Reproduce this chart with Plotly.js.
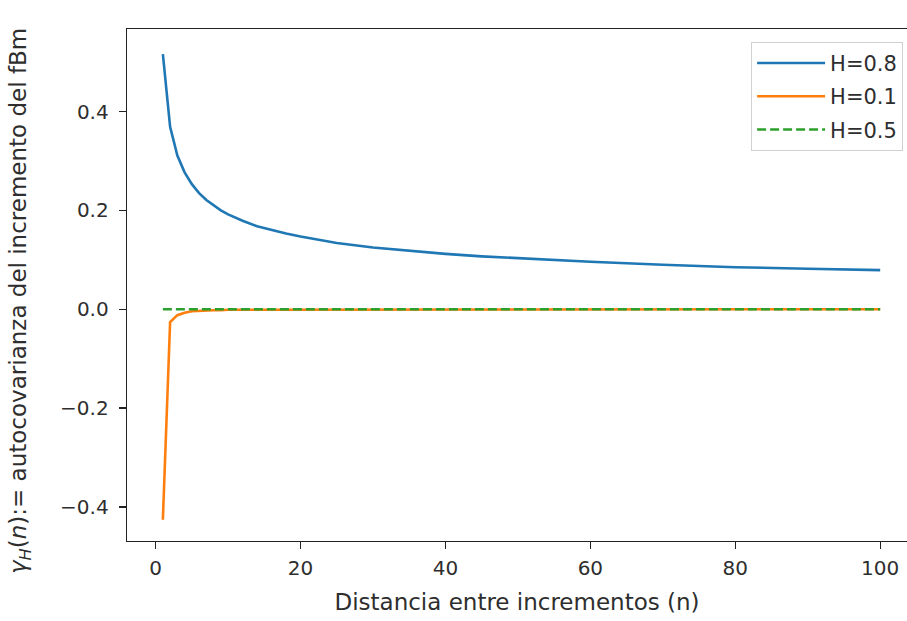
<!DOCTYPE html>
<html>
<head>
<meta charset="utf-8">
<script src="https://cdn.plot.ly/plotly-3.0.1.min.js"></script>
<style>html,body{margin:0;padding:0;background:#fff;}#chart{width:907px;height:621px;}</style>
</head>
<body>
<div id="chart"></div>
<script>
// Distance between increments (n)
const n = [1,2,3,4,5,6,7,8,9,10,12,14,16,18,20,25,30,35,40,45,50,60,70,80,90,100];
// Autocovariance values
const gammaH08 = [0.516,0.369,0.311,0.277,0.253,0.235,0.221,0.210,0.200,0.192,0.179,0.168,0.160,0.153,0.147,0.134,0.125,0.118,0.112,0.107,0.103,0.096,0.090,0.085,0.082,0.079];
const gammaH01 = [-0.426,-0.026,-0.012,-0.007,-0.004,-0.003,-0.002,-0.002,-0.002,-0.001,-0.001,-0.001,0,0,0,0,0,0,0,0,0,0,0,0,0,0];
const gammaH05 = [0,0,0,0,0,0,0,0,0,0,0,0,0,0,0,0,0,0,0,0,0,0,0,0,0,0];
const seriesNames = ["H=0.8","H=0.1","H=0.5"];
const xTicks = [0,20,40,60,80,100];
const yTicks = [-0.4,-0.2,0.0,0.2,0.4];
const yTickText = ["\u22120.4","\u22120.2","0.0","0.2","0.4"];
const xTitle = "Distancia entre incrementos (n)";
const yTitle = "<i>γ</i><sub><i>H</i></sub>(<i>n</i>):= autocovarianza del incremento del fBm";

const font = "DejaVu Sans, sans-serif";
const textColor = "#2e2e2e";
const traces = [
  {x:n, y:gammaH08, name:seriesNames[0], mode:"lines", line:{color:"#1f77b4", width:2.6}, legendgroup:"a"},
  {x:n, y:gammaH01, name:seriesNames[1], mode:"lines", line:{color:"#ff7f0e", width:2.6}, legendgroup:"b"},
  {x:n, y:gammaH05, name:seriesNames[2], mode:"lines", line:{color:"#2ca02c", width:2.6, dash:"9px,4px"}, legendgroup:"c"}
];
const axisCommon = {
  showgrid:false, zeroline:false, showline:true, linecolor:"#222", linewidth:1.3,
  ticks:"outside", ticklen:7, tickwidth:1.2, tickcolor:"#222",
  tickfont:{family:font, size:20, color:textColor}
};
const layout = {
  width:907, height:621,
  margin:{l:127, r:0, t:29, b:80},
  paper_bgcolor:"#fff", plot_bgcolor:"#fff",
  showlegend:true,
  legend:{x:0.995, y:0.975, xanchor:"right", yanchor:"top", bgcolor:"rgba(255,255,255,0.9)",
    bordercolor:"#d0d0d0", borderwidth:1, font:{family:font, size:21, color:textColor}, tracegroupgap:3, itemwidth:68},
  xaxis:Object.assign({}, axisCommon, {range:[-3.95,103.7], tickvals:xTicks, mirror:true, ticklabelstandoff:2,
    title:{text:xTitle, font:{family:font, size:23, color:textColor}, standoff:14}}),
  yaxis:Object.assign({}, axisCommon, {range:[-0.469,0.567], tickvals:yTicks, ticktext:yTickText, ticklabelstandoff:6}),
  annotations:[{xref:"paper", yref:"paper", x:(20-127)/780, y:1-(301-29)/512, xanchor:"center", yanchor:"middle",
    textangle:-90, showarrow:false, text:yTitle, font:{family:font, size:23, color:textColor}}]
};
Plotly.newPlot("chart", traces, layout, {displayModeBar:false, staticPlot:true});
</script>
</body>
</html>
